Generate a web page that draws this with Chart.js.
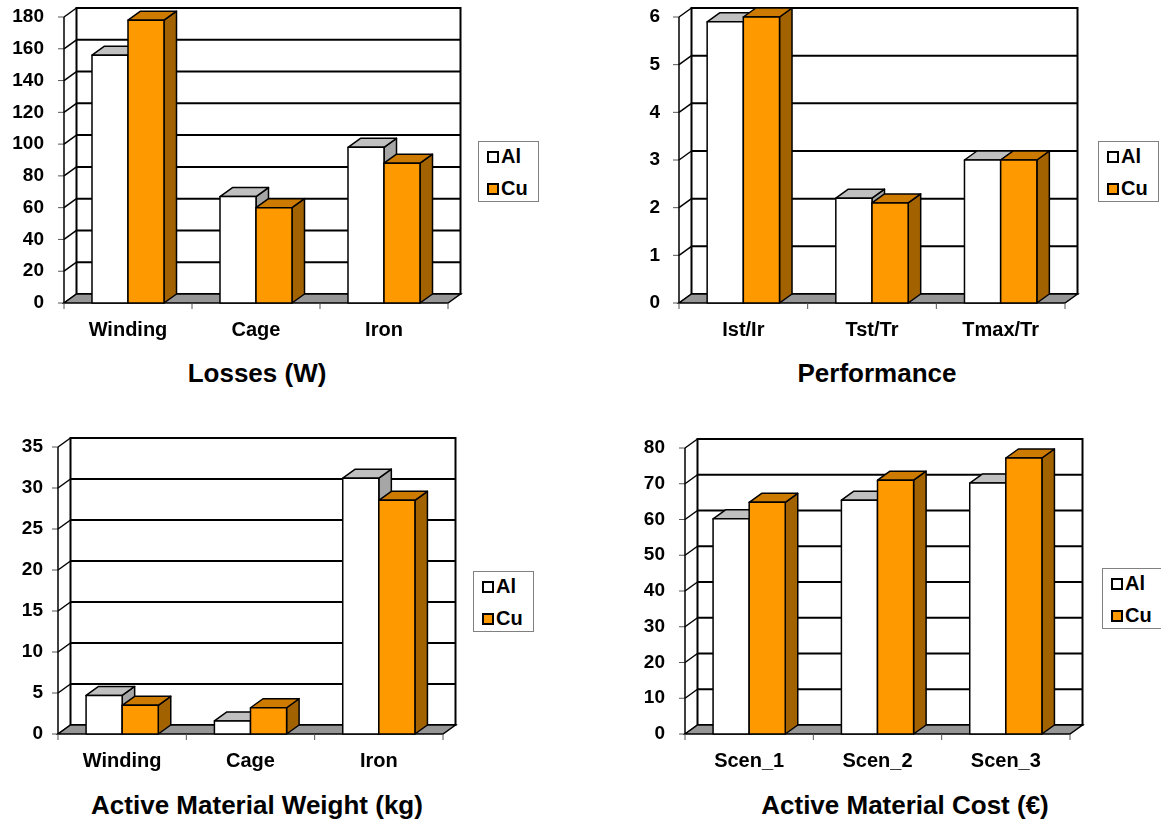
<!DOCTYPE html>
<html>
<head>
<meta charset="utf-8">
<script src="https://cdn.jsdelivr.net/npm/chart.js@4"></script>
<style>
  body { margin: 0; background: #fff; width: 1161px; height: 820px; position: relative; overflow: hidden;
         font-family: 'Liberation Sans', Arial, sans-serif; }
  canvas { position: absolute; }
  .titulo { position: absolute; font-weight: bold; font-size: 26px; white-space: nowrap; transform: translate(-50%, -50%); }
  .leyenda { position: absolute; width: 59px; height: 59px; border: 1px solid #808080; background: #fff;
             font-weight: bold; font-size: 20px; }
  .leyenda span { position: absolute; }
  .marca { width: 8px; height: 8px; border: 2px solid #000; }
</style>
</head>
<body>

<canvas id="perdidas" width="580" height="343" style="left:0;top:0"></canvas>
<canvas id="desempeno" width="580" height="343" style="left:580px;top:0"></canvas>
<canvas id="peso" width="580" height="344" style="left:0;top:430px"></canvas>
<canvas id="costo" width="581" height="344" style="left:580px;top:430px"></canvas>

<div class="titulo" style="left:257px;top:373px">Losses (W)</div>
<div class="titulo" style="left:877px;top:373px">Performance</div>
<div class="titulo" style="left:257px;top:805px">Active Material Weight (kg)</div>
<div class="titulo" style="left:905px;top:805px">Active Material Cost (€)</div>

<div id="ley1" class="leyenda" style="left:478px;top:141px"></div>
<div id="ley2" class="leyenda" style="left:1098px;top:141px"></div>
<div id="ley3" class="leyenda" style="left:473px;top:571px"></div>
<div id="ley4" class="leyenda" style="left:1102px;top:568px"></div>

<script>
// Datos
const series = ['Al', 'Cu'];

const categoriasPerdidas = ['Winding', 'Cage', 'Iron'];
const perdidasAl = [156, 67, 98];
const perdidasCu = [178, 60, 88];

const categoriasDesempeno = ['Ist/Ir', 'Tst/Tr', 'Tmax/Tr'];
const desempenoAl = [5.9, 2.2, 3.0];
const desempenoCu = [6.0, 2.1, 3.0];

const categoriasPeso = ['Winding', 'Cage', 'Iron'];
const pesoAl = [4.7, 1.6, 31.2];
const pesoCu = [3.5, 3.2, 28.5];

const categoriasCosto = ['Scen_1', 'Scen_2', 'Scen_3'];
const costoAl = [60.2, 65.4, 70.2];
const costoCu = [64.8, 71.0, 77.2];

// profundidad del efecto 3D
const dx = 12.5;
const dy = 9;

Chart.defaults.font.family = "'Liberation Sans', Arial, sans-serif";
Chart.defaults.font.weight = 'bold';
Chart.defaults.color = '#000';

function linea(ctx, x1, y1, x2, y2) {
  ctx.beginPath();
  ctx.moveTo(x1, y1);
  ctx.lineTo(x2, y2);
  ctx.stroke();
}

function poligono(ctx, puntos, relleno) {
  ctx.beginPath();
  ctx.moveTo(puntos[0][0], puntos[0][1]);
  for (let i = 1; i < puntos.length; i++) ctx.lineTo(puntos[i][0], puntos[i][1]);
  ctx.closePath();
  ctx.fillStyle = relleno;
  ctx.fill();
  ctx.stroke();
}

// Paredes, piso y barras en 3D
const caja3d = {
  id: 'caja3d',
  beforeDatasetsDraw(chart) {
    const ctx = chart.ctx;
    const a = chart.chartArea;
    const ejeY = chart.scales.y;
    ctx.save();
    ctx.strokeStyle = '#000';

    ctx.lineWidth = 2;
    ctx.strokeRect(a.left + dx, a.top - dy, a.right - a.left, a.bottom - a.top);

    ejeY.ticks.forEach(t => {
      const py = ejeY.getPixelForValue(t.value);
      ctx.lineWidth = 2;
      linea(ctx, a.left + dx, py - dy, a.right + dx, py - dy);
      ctx.lineWidth = 1.5;
      linea(ctx, a.left, py, a.left + dx, py - dy);
      ctx.lineWidth = 1;
      ctx.strokeStyle = '#555';
      linea(ctx, a.left - 6, py, a.left, py);
      ctx.strokeStyle = '#000';
    });

    ctx.lineWidth = 1.5;
    linea(ctx, a.left, a.top, a.left, a.bottom);

    poligono(ctx, [[a.left, a.bottom], [a.right, a.bottom], [a.right + dx, a.bottom - dy], [a.left + dx, a.bottom - dy]], '#969696');

    const n = chart.data.labels.length;
    ctx.lineWidth = 1;
    ctx.strokeStyle = '#555';
    for (let i = 0; i <= n; i++) {
      const bx = a.left + i * (a.right - a.left) / n;
      linea(ctx, bx, a.bottom, bx, a.bottom + 6);
    }
    ctx.restore();
  },
  afterDatasetsDraw(chart) {
    const ctx = chart.ctx;
    ctx.save();
    ctx.strokeStyle = '#000';
    ctx.lineWidth = 1.5;
    ctx.lineJoin = 'round';
    chart.data.datasets.forEach((ds, i) => {
      chart.getDatasetMeta(i).data.forEach(barra => {
        const p = barra.getProps(['x', 'y', 'base', 'width'], true);
        const izq = p.x - p.width / 2;
        const der = p.x + p.width / 2;
        poligono(ctx, [[der, p.y], [der + dx, p.y - dy], [der + dx, p.base - dy], [der, p.base]], ds.colorLado);
        poligono(ctx, [[izq, p.y], [der, p.y], [der + dx, p.y - dy], [izq + dx, p.y - dy]], ds.colorTapa);
        poligono(ctx, [[izq, p.y], [der, p.y], [der, p.base], [izq, p.base]], ds.backgroundColor);
      });
    });
    ctx.restore();
  }
};

function crearGrafico(id, categorias, valoresAl, valoresCu, maximo, paso, anchoEje, padding, padTicks) {
  const ctx = document.getElementById(id).getContext('2d');
  return new Chart(ctx, {
    type: 'bar',
    data: {
      labels: categorias,
      datasets: [
        { label: series[0], data: valoresAl, backgroundColor: '#FFFFFF', colorTapa: '#C0C0C0', colorLado: '#A6A6A6',
          borderColor: '#000', borderWidth: 1.5, borderSkipped: false },
        { label: series[1], data: valoresCu, backgroundColor: '#FF9900', colorTapa: '#CC7A00', colorLado: '#A36200',
          borderColor: '#000', borderWidth: 1.5, borderSkipped: false }
      ]
    },
    options: {
      responsive: false,
      animation: false,
      events: [],
      layout: { padding: padding },
      categoryPercentage: 0.5625,
      barPercentage: 1,
      plugins: { legend: { display: false }, title: { display: false }, tooltip: { enabled: false } },
      scales: {
        x: {
          grid: { display: false, drawTicks: false },
          border: { display: false },
          ticks: { font: { size: 20, weight: 'bold' }, padding: 15, maxRotation: 0 },
          afterFit: (escala) => { escala.height = 40; escala.paddingLeft = 0; escala.paddingRight = 0; }
        },
        y: {
          min: 0,
          max: maximo,
          grid: { display: false, drawTicks: false },
          border: { display: false },
          ticks: { stepSize: paso, font: { size: 19, weight: 'bold' }, padding: padTicks },
          afterFit: (escala) => { escala.width = anchoEje; escala.paddingTop = 0; escala.paddingBottom = 0; }
        }
      }
    },
    plugins: [caja3d]
  });
}

crearGrafico('perdidas', categoriasPerdidas, perdidasAl, perdidasCu, 180, 20, 64, { top: 17, right: 132, left: 0, bottom: 0 }, 20);
crearGrafico('desempeno', categoriasDesempeno, desempenoAl, desempenoCu, 6, 1, 99, { top: 17, right: 95, left: 0, bottom: 0 }, 19);
crearGrafico('peso', categoriasPeso, pesoAl, pesoCu, 35, 5, 58, { top: 17, right: 137, left: 0, bottom: 0 }, 15);
crearGrafico('costo', categoriasCosto, costoAl, costoCu, 80, 10, 105, { top: 18, right: 91, left: 0, bottom: 0 }, 20);

// Leyendas
const coloresLeyenda = ['#FFFFFF', '#FF9900'];
['ley1', 'ley2', 'ley3', 'ley4'].forEach(id => {
  const caja = document.getElementById(id);
  series.forEach((nombre, i) => {
    const marca = document.createElement('span');
    marca.className = 'marca';
    marca.style.left = '8px';
    marca.style.top = (9 + i * 32) + 'px';
    marca.style.background = coloresLeyenda[i];
    caja.appendChild(marca);
    const texto = document.createElement('span');
    texto.textContent = nombre;
    texto.style.left = '22px';
    texto.style.top = (3 + i * 32) + 'px';
    caja.appendChild(texto);
  });
});
</script>
</body>
</html>
